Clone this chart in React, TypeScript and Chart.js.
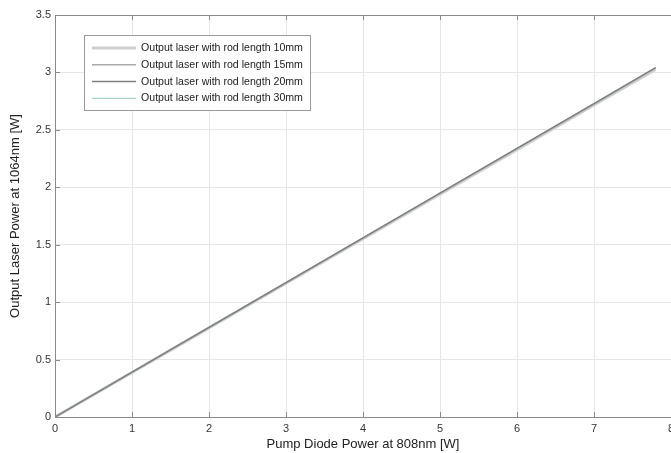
import React, { useEffect, useRef } from "react";
import { Chart, registerables } from "chart.js";

Chart.register(...registerables);

const pumpPower = [0, 1, 2, 3, 4, 5, 6, 7, 7.8];
const rod10 = [0, 0.388, 0.776, 1.164, 1.552, 1.94, 2.328, 2.716, 3.026];
const rod15 = [0, 0.389, 0.779, 1.168, 1.557, 1.947, 2.336, 2.725, 3.037];
const rod20 = [0, 0.39, 0.78, 1.17, 1.559, 1.949, 2.339, 2.729, 3.041];
const rod30 = [0, 0.39, 0.779, 1.169, 1.558, 1.948, 2.337, 2.727, 3.039];
const seriesLabels = [
  "Output laser with rod length 10mm",
  "Output laser with rod length 15mm",
  "Output laser with rod length 20mm",
  "Output laser with rod length 30mm",
];
const seriesColors = ["#cfcfcf", "#a9a9a9", "#7f7f7f", "#a9d3cf"];
const seriesWidths = [3, 1.5, 1.5, 1.2];
const seriesOrder = [3, 2, 0, 1];
const xTicks = [0, 1, 2, 3, 4, 5, 6, 7, 8];
const yTicks = [0, 0.5, 1, 1.5, 2, 2.5, 3, 3.5];

const FONT = "'Liberation Sans', Arial, sans-serif";

const framePlugin = {
  id: "frame",
  afterDatasetsDraw(chart: any) {
    const { ctx, chartArea } = chart;
    const { left, top, right, bottom } = chartArea;
    const xs = chart.scales.x;
    const ys = chart.scales.y;
    ctx.save();
    ctx.strokeStyle = "#8a8a8a";
    ctx.lineWidth = 1;
    ctx.beginPath();
    ctx.moveTo(left, top + 0.5);
    ctx.lineTo(right, top + 0.5);
    ctx.stroke();
    // inward ticks
    ctx.beginPath();
    xTicks.forEach((v) => {
      const px = Math.round(xs.getPixelForValue(v)) + 0.5;
      ctx.moveTo(px, bottom);
      ctx.lineTo(px, bottom - 5);
      ctx.moveTo(px, top);
      ctx.lineTo(px, top + 5);
    });
    yTicks.forEach((v) => {
      const py = Math.round(ys.getPixelForValue(v)) + 0.5;
      ctx.moveTo(left, py);
      ctx.lineTo(left + 5, py);
    });
    ctx.stroke();

    // legend box
    const bx = 84.5, by = 35.5, bw = 226, bh = 75;
    ctx.fillStyle = "#ffffff";
    ctx.fillRect(bx, by, bw, bh);
    ctx.strokeStyle = "#9a9a9a";
    ctx.strokeRect(bx, by, bw, bh);
    ctx.font = `10.6px ${FONT}`;
    ctx.textBaseline = "middle";
    ctx.textAlign = "left";
    seriesLabels.forEach((lab, i) => {
      const yy = 48 + i * 16.8;
      ctx.strokeStyle = seriesColors[i];
      ctx.lineWidth = seriesWidths[i];
      ctx.beginPath();
      ctx.moveTo(92, yy);
      ctx.lineTo(136, yy);
      ctx.stroke();
      ctx.fillStyle = "#222222";
      ctx.fillText(lab, 141, yy);
    });
    ctx.restore();
  },
};

export default function App() {
  const ref = useRef<HTMLCanvasElement>(null);
  useEffect(() => {
    if (!ref.current) return;
    const data = [rod10, rod15, rod20, rod30];
    const chart = new Chart(ref.current, {
      type: "line",
      data: {
        datasets: data.map((d, i) => ({
          label: seriesLabels[i],
          data: pumpPower.map((x, j) => ({ x, y: d[j] })),
          borderColor: seriesColors[i],
          borderWidth: seriesWidths[i],
          pointRadius: 0,
          fill: false,
          tension: 0,
          order: seriesOrder[i],
        })),
      },
      options: {
        animation: false,
        responsive: false,
        maintainAspectRatio: false,
        layout: { padding: { top: 15, right: 29, left: 0, bottom: 0 } },
        plugins: { legend: { display: false }, tooltip: { enabled: false } },
        scales: {
          x: {
            type: "linear",
            min: 0,
            max: 8,
            afterBuildTicks: (s: any) => {
              s.ticks = xTicks.map((v) => ({ value: v }));
            },
            afterFit: (s: any) => {
              s.height = 36;
            },
            ticks: {
              color: "#333",
              font: { size: 11, family: FONT },
              padding: 5,
              maxRotation: 0,
              callback: (v: any) => String(v),
            },
            grid: { color: "#e6e6e6", drawTicks: false },
            border: { color: "#8a8a8a" },
            title: {
              display: true,
              text: "Pump Diode Power at 808nm [W]",
              color: "#222",
              font: { size: 13, family: FONT },
              padding: { top: 0, bottom: 1 },
            },
          },
          y: {
            type: "linear",
            min: 0,
            max: 3.5,
            afterBuildTicks: (s: any) => {
              s.ticks = yTicks.map((v) => ({ value: v }));
            },
            afterFit: (s: any) => {
              s.width = 55;
            },
            ticks: {
              color: "#333",
              font: { size: 11, family: FONT },
              padding: 4,
              callback: (v: any) => String(v),
            },
            grid: { color: "#e6e6e6", drawTicks: false },
            border: { color: "#8a8a8a" },
            title: {
              display: true,
              text: "Output Laser Power at 1064nm [W]",
              color: "#222",
              font: { size: 13, family: FONT },
              padding: { top: 8, bottom: 0 },
            },
          },
        },
      },
      plugins: [framePlugin],
    });
    return () => chart.destroy();
  }, []);
  return (
    <div style={{ position: "fixed", left: 0, top: 0, width: 700, height: 453, background: "#fff" }}>
      <canvas ref={ref} width={700} height={453} style={{ width: 700, height: 453 }} />
    </div>
  );
}
